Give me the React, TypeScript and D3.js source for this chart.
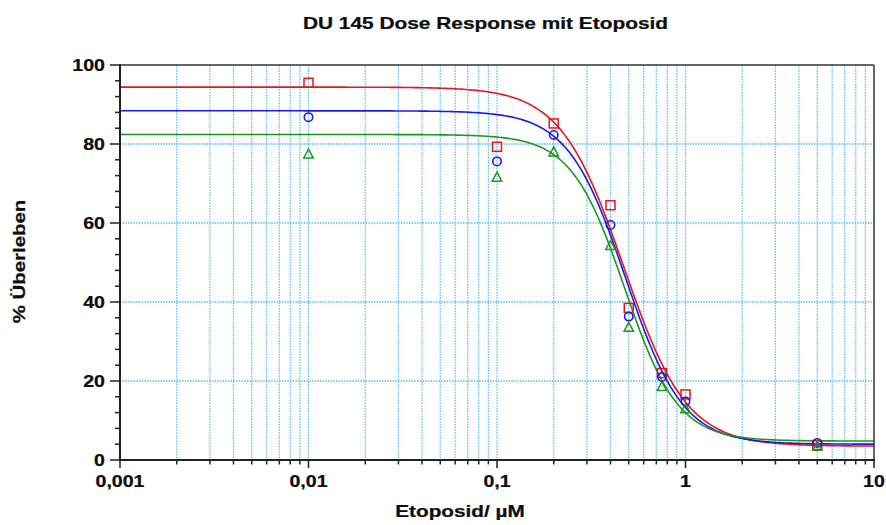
import React from "react";
import * as d3 from "d3";

const doses = [0.01, 0.1, 0.2, 0.4, 0.5, 0.75, 1, 5];
const redValues = [95.5, 79.3, 85.2, 64.5, 38.5, 22, 16.6, 3.8];
const blueValues = [86.8, 75.6, 82.3, 59.5, 36.3, 21, 14.8, 4.3];
const greenValues = [77.5, 71.6, 78, 54.3, 33.6, 18.6, 13, 3.5];
// fitted 4PL parameters: [top, bottom, EC50, hill]
const redFit = [94.4, 3.5, 0.47, 2.6];
const blueFit = [88.4, 4.0, 0.48, 2.85];
const greenFit = [82.4, 4.8, 0.475, 3.07];
const xTickValues = [0.001, 0.01, 0.1, 1, 10];
const xTickLabels = ["0,001", "0,01", "0,1", "1", "10"];
const yTickValues = [0, 20, 40, 60, 80, 100];
const titleText = "DU 145 Dose Response mit Etoposid";
const xLabel = "Etoposid/ µM";
const yLabel = "% Überleben";

const W = 886, H = 525;
const L = 120, R = 874, T = 65, B = 460;
const FONT = "'Liberation Sans', Arial, sans-serif";
const SX = 1.2;

const x = d3.scaleLog().domain([0.001, 10]).range([L, R]);
const y = d3.scaleLinear().domain([0, 100]).range([B, T]);

function Txt({ tx, ty, size, anchor = "middle", rotate = 0, children }: any) {
  return (
    <text
      transform={`translate(${tx},${ty}) rotate(${rotate}) scale(${SX},1)`}
      textAnchor={anchor}
      fontFamily={FONT}
      fontWeight="bold"
      fontSize={size}
      fill="#0d0d0d"
      stroke="#0d0d0d"
      strokeWidth={0.25}
    >
      {children}
    </text>
  );
}

export default function App() {
  const minorX: number[] = [];
  for (let e = -3; e < 1; e++) {
    for (let m = 1; m <= 9; m++) minorX.push(m * Math.pow(10, e));
  }
  const gridX = minorX.filter((v) => v > 0.0011);
  const minorY: number[] = [];
  for (let v = 4; v < 100; v += 4) if (v % 20 !== 0) minorY.push(v);

  const series = [
    { vals: redValues, fit: redFit, color: "#e3171d", shape: "square" },
    { vals: blueValues, fit: blueFit, color: "#1c1ce0", shape: "circle" },
    { vals: greenValues, fit: greenFit, color: "#1f9622", shape: "triangle" },
  ];

  const logPts = d3.range(0, 401).map((i) => Math.pow(10, -3 + (4 * i) / 400));
  const line = d3
    .line<number[]>()
    .x((d) => x(d[0]))
    .y((d) => y(d[1]))
    .curve(d3.curveLinear);
  const model = (f: number[], v: number) => f[1] + (f[0] - f[1]) / (1 + Math.pow(v / f[2], f[3]));

  const gridColor = "#55bcf5";

  return (
    <svg width={W} height={H} style={{ position: "absolute", left: 0, top: 0, background: "#fff" }}>
      <rect x={0} y={0} width={W} height={H} fill="#fff" />
      {/* grid */}
      {gridX.map((v, i) => (
        <line key={"gx" + i} x1={x(v)} x2={x(v)} y1={T} y2={B} stroke={gridColor} strokeWidth={1.2} strokeDasharray="1.5,1.2" />
      ))}
      {[20, 40, 60, 80].map((v) => (
        <line key={"gy" + v} x1={L} x2={R} y1={y(v)} y2={y(v)} stroke={gridColor} strokeWidth={1.4} strokeDasharray="1.5,1.2" />
      ))}
      {/* curves */}
      {series.map((s, i) => (
        <path
          key={"c" + i}
          d={line(logPts.map((v) => [v, model(s.fit, v)])) || ""}
          fill="none"
          stroke={s.color}
          strokeWidth={1.6}
        />
      ))}
      {/* markers */}
      {series.map((s, i) =>
        s.vals.map((v, j) => {
          const cx = x(doses[j]);
          const cy = y(v);
          if (s.shape === "square")
            return <rect key={`m${i}-${j}`} x={cx - 4.5} y={cy - 4.5} width={9} height={9} fill="none" stroke={s.color} strokeWidth={1.5} />;
          if (s.shape === "circle")
            return <circle key={`m${i}-${j}`} cx={cx} cy={cy} r={4.2} fill="none" stroke={s.color} strokeWidth={1.6} />;
          return (
            <path
              key={`m${i}-${j}`}
              d={`M${cx},${cy - 5} L${cx + 4.7},${cy + 4} L${cx - 4.7},${cy + 4} Z`}
              fill="none"
              stroke={s.color}
              strokeWidth={1.5}
            />
          );
        })
      )}
      {/* frame */}
      <line x1={L} x2={R} y1={T} y2={T} stroke="#333" strokeWidth={1.5} />
      <line x1={R} x2={R} y1={T} y2={B} stroke="#333" strokeWidth={1.5} />
      <line x1={L} x2={R + 1} y1={B} y2={B} stroke="#222" strokeWidth={2} />
      <line x1={L} x2={L} y1={T - 1} y2={B + 1} stroke="#222" strokeWidth={2} />
      {/* x ticks */}
      {minorX.concat([10]).map((v, i) => {
        const major = xTickValues.some((t) => Math.abs(t - v) / t < 1e-6);
        return <line key={"xt" + i} x1={x(v)} x2={x(v)} y1={B} y2={B + (major ? 8 : 4.5)} stroke="#222" strokeWidth={1.5} />;
      })}
      {/* y ticks */}
      {yTickValues.map((v) => (
        <line key={"yt" + v} x1={L - 10} x2={L} y1={y(v)} y2={y(v)} stroke="#222" strokeWidth={1.5} />
      ))}
      {minorY.map((v) => (
        <line key={"ym" + v} x1={L - 5} x2={L} y1={y(v)} y2={y(v)} stroke="#222" strokeWidth={1.5} />
      ))}
      {/* tick labels */}
      {xTickValues.map((v, i) => (
        <Txt key={"xl" + i} tx={x(v)} ty={B + 26.5} size={16.3}>
          {xTickLabels[i]}
        </Txt>
      ))}
      {yTickValues.map((v) => (
        <Txt key={"yl" + v} tx={105} ty={y(v) + 6} size={16.3} anchor="end">
          {String(v)}
        </Txt>
      ))}
      <Txt tx={485.5} ty={29} size={17.4}>{titleText}</Txt>
      <Txt tx={460} ty={516.5} size={17.3}>{xLabel}</Txt>
      <Txt tx={24.5} ty={261.5} size={17} rotate={-90}>{yLabel}</Txt>
    </svg>
  );
}
